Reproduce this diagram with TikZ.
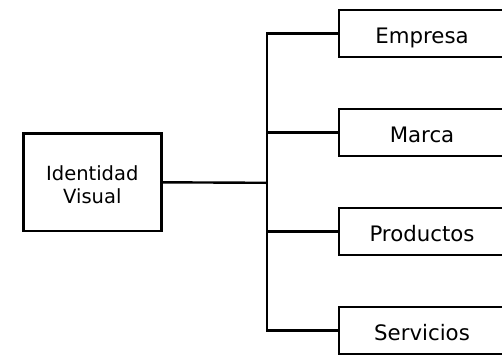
\documentclass[tikz,border=0pt]{standalone}
\usepackage{fontspec}
\setmainfont{DejaVu Sans}
\begin{document}
\begin{tikzpicture}[x=1pt,y=-1pt,
  box/.style={draw=black,line width=2.4pt,fill=white,inner sep=0pt},
  leaf/.style={box,minimum width=166pt,minimum height=47pt,font=\fontsize{21.3}{25}\selectfont,text height=19.6pt,text depth=0pt},
  lbl/.style={inner sep=0pt,align=center,font=\fontsize{19.5}{23.3}\selectfont},
  conn/.style={draw=black,line width=2.4pt}]
\clip (0,0) rectangle (502,354);
\fill[white] (0,0) rectangle (502,354);
\node[box,minimum width=138pt,minimum height=97.5pt] (iv) at (92.3,182.3) {};
\node[lbl] (ivt) at (92.3,184.8) {Identidad\\Visual};
\node[leaf] (e) at (422,33.5) {Empresa};
\node[leaf] (m) at (422,132.5) {Marca};
\node[leaf] (p) at (422,231.5) {Productos};
\node[leaf] (s) at (422,330.5) {Servicios};
\coordinate (j) at (267.2,182.8);
\draw[conn] (iv.east) -- (j);
\draw[conn] (j) |- (e.west);
\draw[conn] (j) |- (m.west);
\draw[conn] (j) |- (p.west);
\draw[conn] (j) |- (s.west);
\end{tikzpicture}
\end{document}
